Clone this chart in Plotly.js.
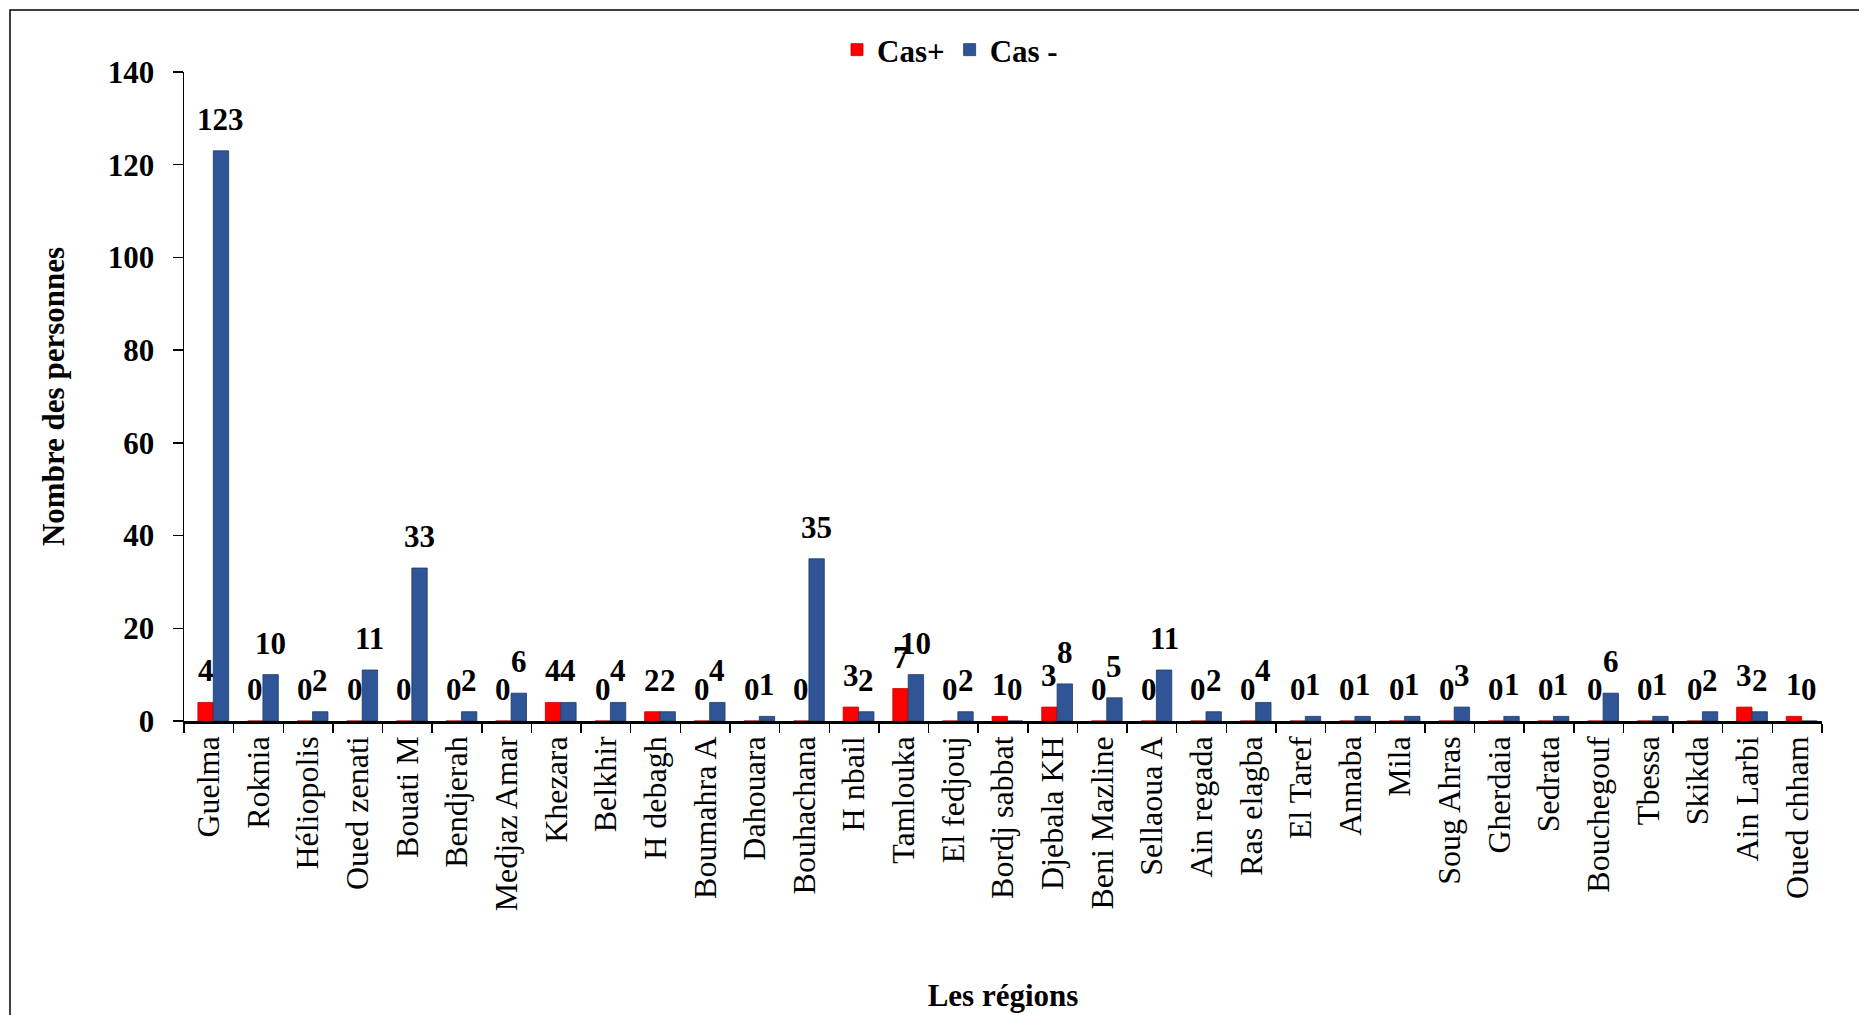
<!DOCTYPE html>
<html>
<head>
<meta charset="utf-8">
<script src="https://cdn.plot.ly/plotly-3.0.1.min.js"></script>
<style>
  html, body { margin: 0; padding: 0; background: #ffffff; }
  #chart { width: 1859px; height: 1015px; }
</style>
</head>
<body>
<div id="chart"></div>
<script>
const regions = ["Guelma", "Roknia", "Héliopolis", "Oued zenati", "Bouati M", "Bendjerah", "Medjaz Amar",
  "Khezara", "Belkhir", "H debagh", "Boumahra A", "Dahouara", "Bouhachana", "H nbail", "Tamlouka",
  "El fedjouj", "Bordj sabbat", "Djebala KH", "Beni Mazline", "Sellaoua A", "Ain regada", "Ras elagba",
  "El Taref", "Annaba", "Mila", "Soug Ahras", "Gherdaia", "Sedrata", "Bouchegouf", "Tbessa", "Skikda",
  "Ain Larbi", "Oued chham"];
const casPositif = [4, 0, 0, 0, 0, 0, 0, 4, 0, 2, 0, 0, 0, 3, 7, 0, 1, 3, 0, 0, 0, 0, 0, 0, 0, 0, 0, 0, 0, 0, 0, 3, 1];
const casNegatif = [123, 10, 2, 11, 33, 2, 6, 4, 4, 2, 4, 1, 35, 2, 10, 2, 0, 8, 5, 11, 2, 4, 1, 1, 1, 3, 1, 1, 6, 1, 2, 2, 0];
const yTicks = [0, 20, 40, 60, 80, 100, 120, 140];
const seriesNames = ["Cas+", "Cas -"];
const xTitle = "Les régions";
const yTitle = "Nombre des personnes";

const FONT = "Liberation Serif, Times New Roman, serif";
const W = 1859, H = 1015;
const M = { l: 184, r: 37, t: 72, b: 294 };
const pw = W - M.l - M.r, ph = H - M.t - M.b;
const px2x = p => (p - M.l) / pw;
const px2y = p => (H - M.b - p) / ph;
const catPx = pw / regions.length;

const BAR_W = 0.31;
const OFF_POS = -0.22, OFF_NEG = 0.09;

const labelFont = { family: FONT, size: 31, color: "#000000", weight: "bold" };

const traces = [
  {
    type: "bar", name: seriesNames[0], x: regions, y: casPositif,
    width: BAR_W, offset: OFF_POS,
    marker: { color: "#FF0000", line: { color: "#C00000", width: 0.8 } },
    hoverinfo: "x+y+name"
  },
  {
    type: "bar", name: seriesNames[1], x: regions, y: casNegatif,
    width: BAR_W, offset: OFF_NEG,
    marker: { color: "#2F5597", line: { color: "#1F3A68", width: 0.8 } },
    hoverinfo: "x+y+name"
  }
];

// value labels above each bar (drawn through the axis scales)
const annotations = [];
[[casPositif, OFF_POS], [casNegatif, OFF_NEG]].forEach(([vals, off]) => {
  vals.forEach((v, i) => {
    annotations.push({
      xref: "x", yref: "y", x: regions[i], y: v,
      xshift: (off + BAR_W / 2) * catPx, yshift: 12,
      yanchor: "bottom", xanchor: "center",
      text: String(v), showarrow: false, font: labelFont
    });
  });
});

const layout = {
  width: W, height: H,
  margin: M,
  paper_bgcolor: "#ffffff", plot_bgcolor: "#ffffff",
  barmode: "group", bargap: 0.38, bargroupgap: 0,
  font: { family: FONT, color: "#000000" },
  showlegend: true,
  legend: {
    orientation: "h", x: px2x(950), xanchor: "center", y: px2y(50), yanchor: "middle",
    font: { family: FONT, size: 31, color: "#000000", weight: "bold" },
    itemwidth: 30, tracegroupgap: 0, bgcolor: "rgba(0,0,0,0)"
  },
  xaxis: {
    type: "category",
    showline: true, linecolor: "#000000", linewidth: 2.5,
    ticks: "outside", tickson: "boundaries", ticklen: 9, tickwidth: 1.5, tickcolor: "#000000",
    tickangle: -90, tickfont: { family: FONT, size: 32, color: "#000000" },
    showgrid: false, zeroline: false, automargin: false,
    title: { text: xTitle, font: { family: FONT, size: 31, color: "#000000", weight: "bold" }, standoff: 74 }
  },
  yaxis: {
    range: [0, 140], tickvals: yTicks, ticktext: yTicks.map(String),
    showline: true, linecolor: "#000000", linewidth: 1.5,
    ticks: "outside", ticklen: 10, tickwidth: 1.5, tickcolor: "#000000",
    tickfont: { family: FONT, size: 31, color: "#000000", weight: "bold" },
    ticklabelstandoff: 12,
    showgrid: false, zeroline: false, automargin: false,
    title: { text: yTitle, font: { family: FONT, size: 31, color: "#000000", weight: "bold" }, standoff: 34 }
  },
  annotations: annotations,
  shapes: [
    {
      type: "rect", xref: "paper", yref: "paper",
      x0: px2x(10), x1: px2x(1900), y0: px2y(1060), y1: px2y(10),
      line: { color: "#000000", width: 1.5 }, fillcolor: "rgba(0,0,0,0)", layer: "below"
    }
  ]
};

Plotly.newPlot("chart", traces, layout, { displayModeBar: false, staticPlot: true });
</script>
</body>
</html>
